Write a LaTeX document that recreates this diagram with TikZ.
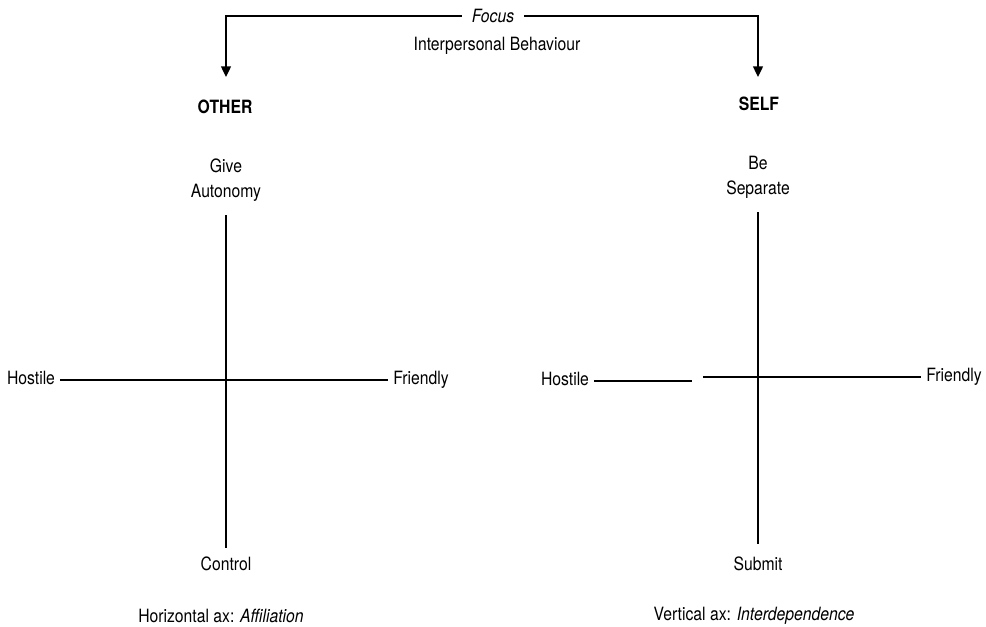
\documentclass[tikz,border=0pt]{standalone}
\usepackage{fontspec}
\setmainfont{TeX Gyre Heros}[FakeStretch=0.86]
\usetikzlibrary{arrows.meta}

\begin{document}
\begin{tikzpicture}[x=0.025cm, y=-0.025cm, font=\fontsize{13}{18}\selectfont,
    lbl/.style={text height=1.5ex, text depth=.25ex},
    head/.style={font=\fontsize{13}{18}\selectfont\bfseries},
    axline/.style={line width=1pt},
    focusarrow/.style={line width=1pt, -{Triangle[width=7pt,length=7.5pt]}}]
  \useasboundingbox (0,0) rectangle (986,626);
  % focus on top
  \node[inner xsep=7pt] (focus) at (493,16) {\itshape Focus};
  \node (behav) at (497,46) {Interpersonal Behaviour};
  \coordinate (otip) at (226,77);
  \coordinate (stip) at (758,77);
  \draw[focusarrow] (focus.west) -| (otip);
  \draw[focusarrow] (focus.east) -| (stip);
  % other
  \node[head] (other) at (225,107) {OTHER};
  \node[align=center] (give) at (226,180) {Give\\Autonomy};
  \node[lbl] (control) at (226,566) {Control};
  \node[lbl] (ohostile) at (31,380) {Hostile};
  \node[lbl] (ofriendly) at (421,380) {Friendly};
  \draw[axline, shorten <=35*0.025cm, shorten >=18*0.025cm] (give.center) -- (control.center);
  \draw[axline] (ohostile) -- (ofriendly);
  \node (affil) at (221,616) {Horizontal ax: \textit{Affiliation}};
  % self
  \node[head] (self) at (759,104) {SELF};
  \node[align=center] (sep) at (758,177) {Be\\Separate};
  \node[lbl] (submit) at (758,566) {Submit};
  \node[lbl] (shostile) at (565,381) {Hostile};
  \node[lbl] (sfriendly) at (954,377) {Friendly};
  \coordinate (gapl) at (692,381);
  \coordinate (gapr) at (703,377);
  \draw[axline, shorten <=35*0.025cm, shorten >=22*0.025cm] (sep.center) -- (submit.center);
  \draw[axline] (shostile) -- (gapl);
  \draw[axline] (gapr) -- (sfriendly);
  \node (interdep) at (754,616) {Vertical ax: \textit{Interdependence}};
\end{tikzpicture}
\end{document}
